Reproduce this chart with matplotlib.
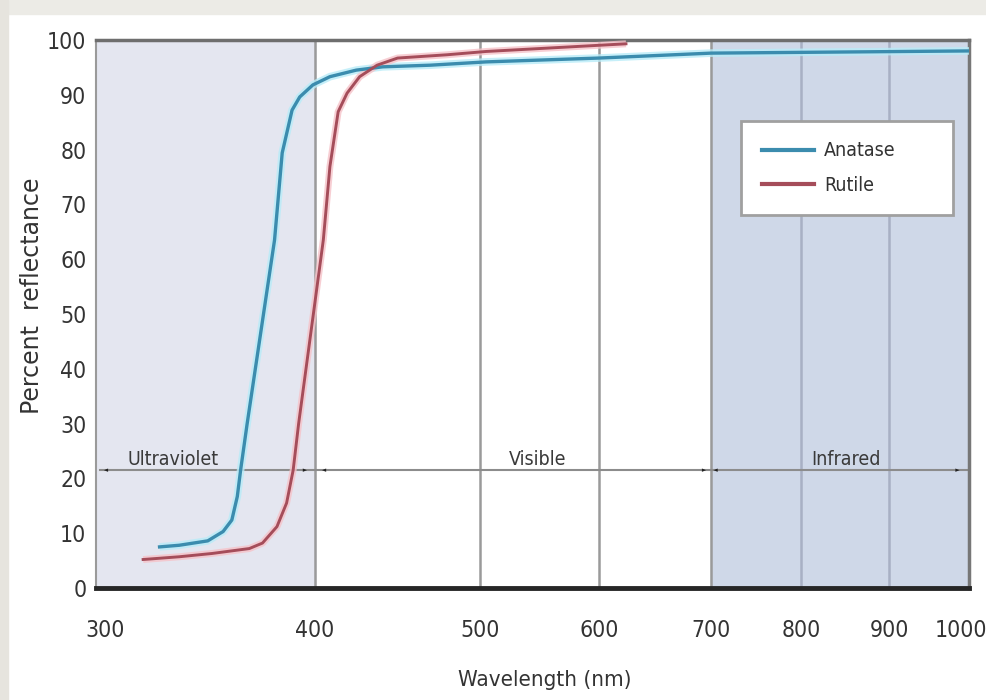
import numpy as np
import matplotlib
matplotlib.use('Agg')
import matplotlib.pyplot as plt
from matplotlib import font_manager
from matplotlib.patches import Rectangle
from matplotlib.lines import Line2D
from matplotlib.ticker import FixedLocator, FixedFormatter
from matplotlib.transforms import ScaledTranslation

# the chart uses a narrow sans; take a condensed face if one is installed
narrow = font_manager.FontProperties(family='DejaVu Sans', stretch='condensed')
if 'Condensed' in font_manager.findfont(narrow, fallback_to_default=True):
    plt.rcParams['font.family'] = ['DejaVu Sans']
    plt.rcParams['font.stretch'] = 'condensed'
else:
    plt.rcParams['font.family'] = ['Liberation Sans', 'DejaVu Sans']

# x ticks of the original chart (its spacing is uneven, close to a log axis)
wl_ticks = [300, 400, 500, 600, 700, 800, 900, 1000]
tick_pos = [0, 219, 384, 503, 615, 705, 793, 873]

# reflectance curves
anatase_wl = [329, 338, 351, 358, 362, 364.5, 366, 369, 381.5, 385, 389.5, 393,
              399, 409, 425, 441, 470, 505, 600, 700, 1000]
anatase_r = [7.5, 7.8, 8.6, 10.3, 12.4, 16.7, 21.5, 30.0, 63.5, 79.4, 87.2, 89.6,
             91.8, 93.3, 94.5, 95.1, 95.4, 96.0, 96.7, 97.6, 98.0]

rutile_wl = [321.5, 338, 353, 370, 376, 382.6, 387, 390, 392.5, 405, 409, 414,
             419.4, 427, 437.6, 450, 480, 505, 624]
rutile_r = [5.2, 5.7, 6.3, 7.2, 8.2, 11.2, 15.5, 21.5, 30.0, 63.5, 76.9, 86.9,
            90.3, 93.3, 95.4, 96.7, 97.3, 97.9, 99.3]

# spectral bands: (label, start, end, label x)
bands = [('Ultraviolet', 303.6, 396.3, 335),
         ('Visible', 404.2, 695.5, 548),
         ('Infrared', 702.7, 988, 851)]
band_y = 21.5


def fwd(x):
    x = np.asarray(x, dtype=float)
    y = np.interp(x, wl_ticks, tick_pos)
    y = np.where(x < 300, (x - 300) * 2.19, y)
    y = np.where(x > 1000, 873 + (x - 1000) * 0.8, y)
    return y


def inv(y):
    y = np.asarray(y, dtype=float)
    x = np.interp(y, tick_pos, wl_ticks)
    x = np.where(y < 0, 300 + y / 2.19, x)
    x = np.where(y > 873, 1000 + (y - 873) / 0.8, x)
    return x


fig = plt.figure(figsize=(9.86, 7), dpi=100)
fig.patches.append(Rectangle((0, 0.98), 1, 0.02, transform=fig.transFigure,
                             color='#ecebe6', zorder=0))
fig.patches.append(Rectangle((0, 0), 0.008, 1, transform=fig.transFigure,
                             color='#e6e4de', zorder=0))

ax = fig.add_axes([0.0974, 0.16, 0.8855, 0.7829])
ax.set_xscale('function', functions=(fwd, inv))
ax.set_xlim(300, 1000)
ax.set_ylim(0, 100)

ax.axvspan(300, 400, color='#e4e6f0', zorder=0)
ax.axvspan(700, 1000, color='#cfd8e8', zorder=0)
for w in wl_ticks[1:-1]:
    c = '#a8b0c4' if w > 700 else '#9a9a9a'
    ax.axvline(w, color=c, lw=1.8, zorder=1)

# band arrows
ax.plot([302, 998], [band_y, band_y], color='#8c8c8c', lw=1.5, zorder=2)
for name, a, b, tx in bands:
    ax.annotate('', xy=(a, band_y), xytext=(b, band_y),
                arrowprops=dict(arrowstyle='<|-|>,head_length=0.3,head_width=0.12',
                                color='#222222', lw=0, shrinkA=0, shrinkB=0),
                zorder=3)
    ax.text(tx, band_y + 1.0, name, ha='center', va='baseline',
            fontsize=14, color='#3a3a3a', zorder=3)

# curves with a soft glow
ax.plot(anatase_wl, anatase_r, color='#b8ecf8', lw=5.5, alpha=0.8,
        solid_capstyle='butt', zorder=4)
ax.plot(anatase_wl, anatase_r, color='#3b8cae', lw=2.4, zorder=5)
ax.plot(rutile_wl, rutile_r, color='#f6c2c8', lw=5, alpha=0.8,
        solid_capstyle='butt', zorder=4)
ax.plot(rutile_wl, rutile_r, color='#a54d5a', lw=2.1, zorder=5)

ax.xaxis.set_major_locator(FixedLocator(wl_ticks))
ax.xaxis.set_major_formatter(FixedFormatter([str(w) for w in wl_ticks]))
ax.xaxis.set_minor_locator(FixedLocator([]))
ax.set_yticks(range(0, 101, 10))
ax.tick_params(length=0, labelsize=16.5, labelcolor='#333333')
ax.tick_params(axis='x', pad=22)
ax.tick_params(axis='y', pad=7)
# first and last x labels sit a little inside the frame, as in the source
xt = ax.xaxis.get_major_ticks()
xt[0].label1.set_transform(xt[0].label1.get_transform()
                           + ScaledTranslation(0.09, 0, fig.dpi_scale_trans))
xt[-1].label1.set_transform(xt[-1].label1.get_transform()
                            + ScaledTranslation(-0.08, 0, fig.dpi_scale_trans))

ax.spines['top'].set(color='#6e6e6e', lw=2.5)
ax.spines['right'].set(color='#777777', lw=2.5)
ax.spines['bottom'].set(color='#262626', lw=3.5)
ax.spines['left'].set(color='#9a9a9a', lw=1.5)

handles = [Line2D([], [], color='#3b8cae', lw=3),
           Line2D([], [], color='#a54d5a', lw=3)]
leg = ax.legend(handles, ['Anatase', 'Rutile'], loc='upper left',
                bbox_to_anchor=(645 / 873, 368 / 548, 212 / 873, 99 / 548),
                mode='expand', fancybox=False, framealpha=1,
                edgecolor='#a0a0a0', fontsize=14, handlelength=2.7,
                borderpad=1.05, labelspacing=0.8, handletextpad=0.5,
                borderaxespad=0)
leg.get_frame().set_linewidth(2)
for t in leg.get_texts():
    t.set_color('#333333')

fig.text(545 / 986, 1 - 680 / 700, 'Wavelength (nm)', ha='center', va='center',
         fontsize=16, color='#333333')
fig.text(32 / 986, 1 - 296 / 700, 'Percent  reflectance', ha='center', va='center',
         rotation=90, fontsize=17, color='#333333', family='DejaVu Sans',
         stretch='normal')

fig.savefig('out.png', dpi=100, facecolor='white')
